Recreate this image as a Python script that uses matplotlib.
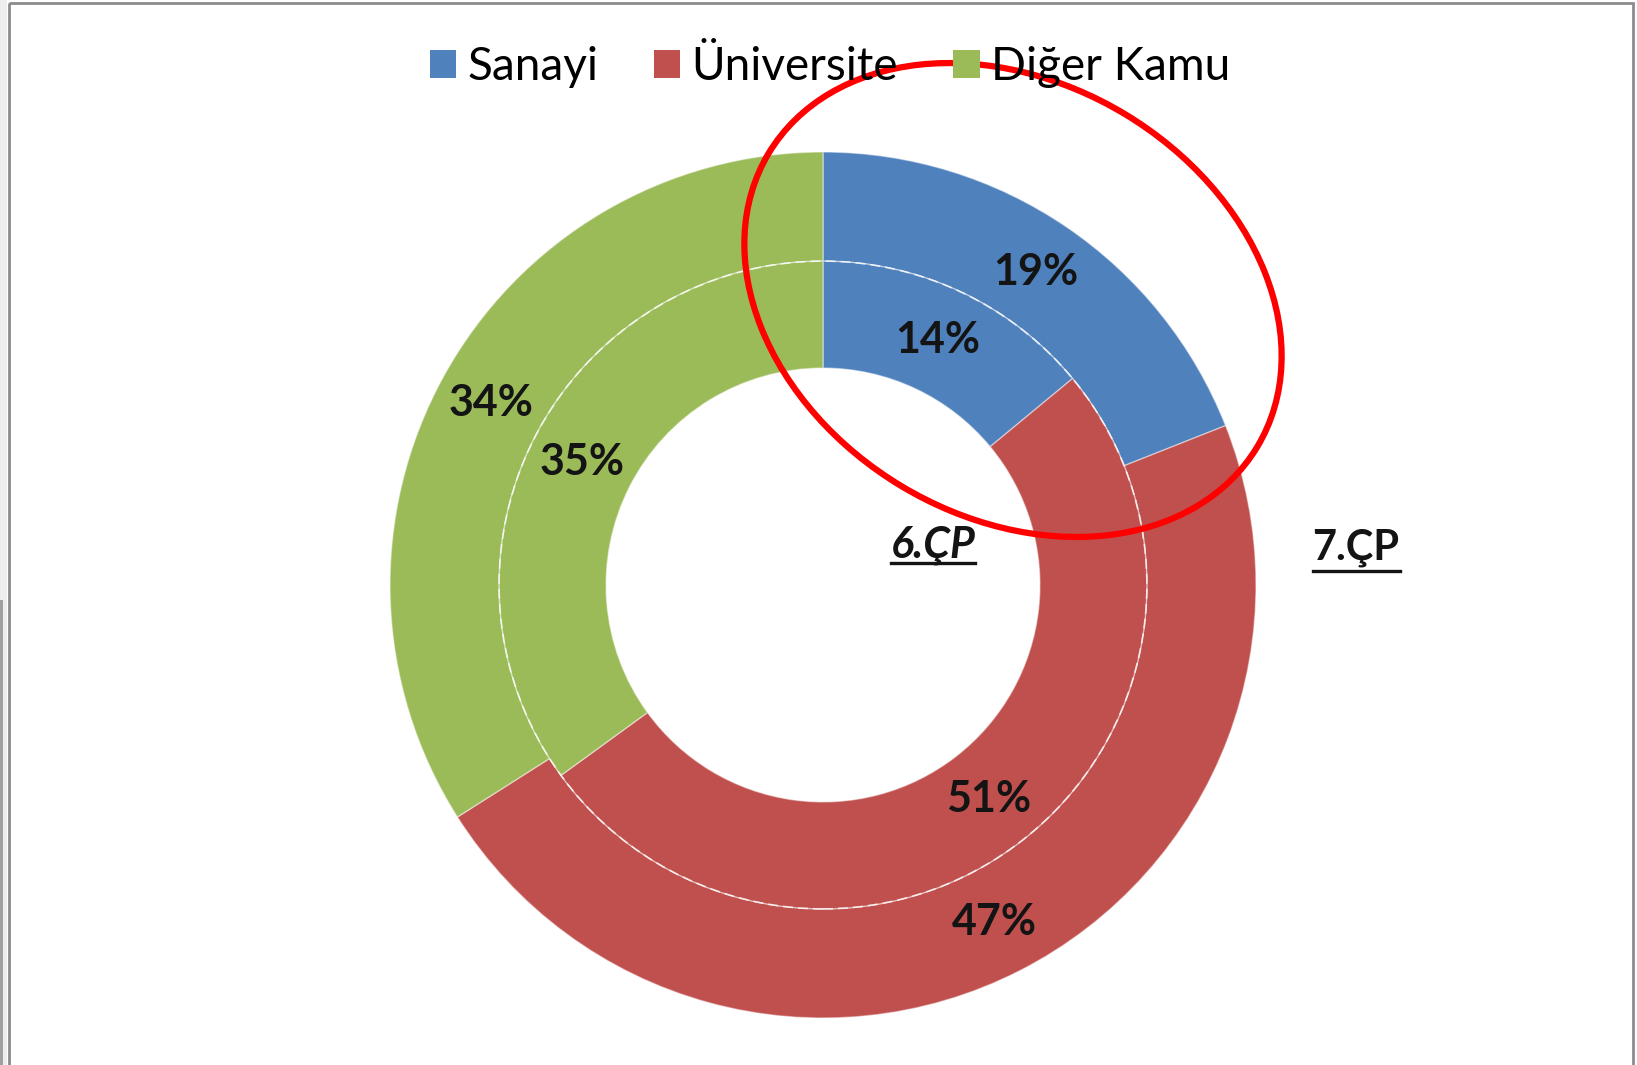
import matplotlib
matplotlib.use("Agg")
import matplotlib.pyplot as plt
from matplotlib.patches import Patch, Ellipse, Rectangle, Circle
from matplotlib.lines import Line2D

categories = ["Sanayi", "Üniversite", "Diğer Kamu"]
colors = ["#4F81BD", "#C0504D", "#9BBB59"]
inner_6cp = [14, 51, 35]   # 6.ÇP
outer_7cp = [19, 47, 34]   # 7.ÇP
ring_labels = ["6.ÇP", "7.ÇP"]

W, H = 1637, 1065
fig = plt.figure(figsize=(W / 100, H / 100), dpi=100)
fig.patch.set_facecolor("white")

font = ["Lato", "DejaVu Sans"]
txtc = "#141414"

# pie axes: center (823, 585) px, radius 433 px
cx, cy, R = 823, 585, 433
ax = fig.add_axes([(cx - R) / W, 1 - (cy + R) / H, 2 * R / W, 2 * R / H])

outer_w = 0.252
inner_r = 1 - outer_w
inner_w = 0.247
edge = (1, 1, 1, 0.45)

wo, to, ao = ax.pie(outer_7cp, radius=1, startangle=90, counterclock=False,
                    colors=colors, autopct="%.0f%%", pctdistance=0.874,
                    wedgeprops=dict(width=outer_w, edgecolor=edge, linewidth=1.0))
wi, ti, ai = ax.pie(inner_6cp, radius=inner_r, startangle=90, counterclock=False,
                    colors=colors, autopct="%.0f%%", pctdistance=(inner_r - inner_w / 2) / inner_r,
                    wedgeprops=dict(width=inner_w, edgecolor=edge, linewidth=1.0))
ax.add_patch(Circle((0, 0), inner_r, facecolor="none", edgecolor=(1, 1, 1, 0.75),
                    linewidth=1.2, linestyle=(0, (6, 3)), zorder=3))
for t in list(ao) + list(ai):
    t.set_fontfamily(font)
    t.set_fontweight("bold")
    t.set_fontsize(31)
    t.set_color(txtc)
    t.set_zorder(5)
ax.set_xlim(-1, 1)
ax.set_ylim(-1, 1)
ax.set_aspect("equal")
ax.axis("off")

# overlay axes in pixel coordinates
ov = fig.add_axes([0, 0, 1, 1], facecolor="none")
ov.set_xlim(0, W)
ov.set_ylim(H, 0)
ov.axis("off")

# frame
ov.add_patch(Rectangle((0, 0), 7, H, facecolor="#eeeeee", edgecolor="none"))
ov.add_patch(Rectangle((0, 600), 3, H - 600, facecolor="#a0a0a0", edgecolor="none"))
ov.add_patch(Rectangle((9, 3), 1624, H + 20, facecolor="none", edgecolor="#8c8c8c", linewidth=2))

# ring labels (underlined)
t6 = ov.text(933, 545, ring_labels[0], fontfamily=font, fontweight="bold", fontstyle="italic",
             fontsize=31, color=txtc, ha="center", va="center")
t7 = ov.text(1356, 548, ring_labels[1], fontfamily=font, fontweight="bold",
             fontsize=30, color=txtc, ha="center", va="center")

fig.canvas.draw()
renderer = fig.canvas.get_renderer()
for t, uy in ((t6, 563), (t7, 571)):
    bb = t.get_window_extent(renderer)
    ov.add_line(Line2D([bb.x0, bb.x1], [uy, uy], color=txtc, linewidth=2.4))

# legend
handles = [Patch(facecolor=c, edgecolor="none") for c in colors]
fig.legend(handles, categories, loc="center", bbox_to_anchor=(830 / W, 1 - 67 / H),
           ncol=3, frameon=False, prop=dict(family=font, size=33),
           handlelength=0.58, handleheight=0.58, handletextpad=0.25,
           columnspacing=1.2, borderaxespad=0)

# red annotation ellipse
ov.add_patch(Ellipse((1013, 300), 2 * 285, 2 * 217, angle=31, facecolor="none",
                     edgecolor="#ff0000", linewidth=4.5))

fig.savefig("out.png", dpi=100, facecolor="white")
